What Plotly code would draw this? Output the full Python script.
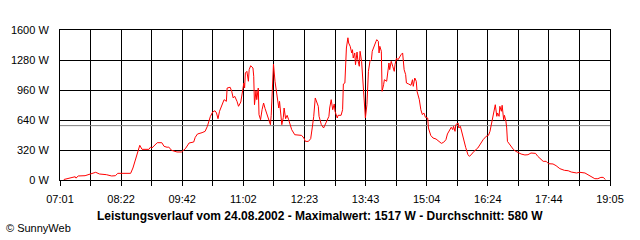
import plotly.graph_objects as go

# minutes after 07:01 and power in W
minutes = [5, 11, 17, 20, 21, 24, 33, 41, 47, 52, 61, 68, 73, 76, 93, 96, 99, 103, 105, 107, 108, 117, 119, 121,
           123, 128, 134, 137, 141, 143, 147, 154, 160, 165, 170, 176, 178, 181, 187, 191, 194, 198, 201, 204, 206,
           208, 210, 213, 216, 219, 220, 224, 226, 228, 230, 233, 235, 238,
           240, 242, 243, 244, 246, 248, 249, 251, 254, 255, 256, 258, 259, 261, 262, 264, 266, 268, 270, 273, 275,
           277, 278, 280, 281, 283, 284, 286, 288, 289, 291, 292, 294, 295, 297, 299, 301, 303, 305, 309, 314, 318,
           321, 323, 327, 330, 332, 334, 336, 338, 340, 341, 344, 347, 349, 352, 354, 355, 357, 359, 361, 362, 365,
           366, 370, 372, 373, 375, 376, 377, 379, 380, 382, 384, 385, 386, 388, 389, 391, 392, 394, 395, 397, 398,
           399, 401, 402, 404, 405, 406, 408, 410, 411, 413, 416, 417, 419, 420, 421, 423, 424, 426, 427, 430, 432,
           433, 434, 436, 438, 440, 441, 443, 445, 447, 449, 451, 452, 453, 455, 456, 459, 462, 464, 465, 467, 469,
           470, 473, 475, 477, 479, 481, 484, 485,
           488, 491, 495, 499, 502, 505, 508, 510, 513, 515, 517, 518, 520, 521, 524, 525, 527, 529, 531, 534, 537,
           539, 542, 545, 550, 554, 557, 561, 564, 566, 569, 570, 572, 573, 575, 576, 578, 579, 581, 582, 584, 585,
           587, 588, 589, 592, 594, 597, 600, 604, 607,
           612, 616, 620, 626, 629, 633, 636, 640, 643, 649, 653, 658, 664, 669, 673, 680, 684, 691, 695, 699, 704,
           708, 712, 715, 718]
watts = [5, 14, 25, 35, 20, 43, 46, 67, 82, 64, 57, 43, 46, 71, 71, 128, 217, 324, 370, 341, 327, 327, 349, 341,
         359, 398, 398, 359, 349, 352, 316, 299, 299, 334, 395, 405, 455, 491, 505, 519, 573, 679, 725, 739, 715,
         654, 733, 786, 857, 839, 981, 989, 946, 875, 893, 839, 786, 832,
         928, 1035, 981, 1141, 1159, 1053, 1177, 1219, 1195, 1106, 803, 953, 857, 981, 697, 643, 750, 821, 761, 690, 643,
         590, 690, 981, 1237, 1053, 989, 893, 768, 839, 679, 590, 669, 768, 654, 690, 643, 590, 537, 483, 476, 476,
         448, 412, 412, 441, 555, 679, 875, 821, 786, 679, 590, 555, 590, 643, 679, 768, 857, 750, 811, 733, 661,
         690, 690, 750, 1024, 1035, 1195, 1408, 1517, 1461, 1426, 1355, 1390, 1301, 1355, 1230, 1365, 1283, 1213, 1373,
         1266, 1159, 999, 786, 661, 803, 981, 1159, 1266, 1283, 1373, 1426, 1479, 1497, 1479, 1355, 1426, 1373, 946,
         1017, 1070, 1053, 1159, 1248, 1177, 1266, 1213, 1159, 1230, 1301, 1283, 1319, 1337, 1355, 1283, 1177, 1124,
         1035, 1024, 1010, 1070, 999, 1088, 1053, 946, 857, 750, 697, 715, 669, 661, 555,
         476, 448, 437, 405, 391, 402, 430, 491, 537, 562, 537, 573, 519, 590, 608, 555, 573, 501, 430, 349, 270,
         252, 277, 306, 341, 395, 430, 466, 476, 519, 626, 679, 750, 803, 679, 715, 679, 786, 733, 797, 643, 690,
         626, 555, 412, 377, 359, 324, 306, 288, 277,
         267, 270, 288, 284, 252, 217, 199, 199, 174, 171, 153, 121, 103, 99, 85, 75, 82, 75, 57, 39, 14,
         14, 28, 28, 5]

average_w = 580
y_ticks = [0, 320, 640, 960, 1280, 1600]
y_labels = ["0 W", "320 W", "640 W", "960 W", "1280 W", "1600 W"]
x_span = 724
x_labels = ["07:01", "08:22", "09:42", "11:02", "12:23", "13:43", "15:04", "16:24", "17:44", "19:05"]
title_text = "Leistungsverlauf vom 24.08.2002 - Maximalwert: 1517 W - Durchschnitt: 580 W"
credit_text = "© SunnyWeb"

n_div = (len(x_labels) - 1) * 2
x_tickvals = [i * x_span / n_div for i in range(n_div + 1)]
x_ticktext = [x_labels[i // 2] if i % 2 == 0 else "" for i in range(n_div + 1)]

fig = go.Figure()
fig.add_trace(go.Scatter(x=[0, x_span], y=[average_w, average_w], mode="lines",
                         line=dict(color="#808080", width=1), hoverinfo="skip"))
fig.add_trace(go.Scatter(x=minutes, y=watts, mode="lines",
                         line=dict(color="#ff0000", width=1)))

font = "Liberation Sans, Arial, sans-serif"
fig.update_layout(
    width=640, height=240, margin=dict(l=60, r=30, t=30, b=60),
    paper_bgcolor="white", plot_bgcolor="white", showlegend=False,
    font=dict(family=font, size=11, color="black"),
    xaxis=dict(range=[0, x_span], tickvals=x_tickvals, ticktext=x_ticktext,
               showgrid=True, gridcolor="black", gridwidth=1, zeroline=False,
               showline=True, linecolor="black", linewidth=1, mirror=True,
               ticks="outside", ticklen=5, tickcolor="black", tickwidth=1,
               tickfont=dict(size=11), ticklabelstandoff=4, fixedrange=True),
    yaxis=dict(range=[0, 1600], tickvals=y_ticks, ticktext=y_labels,
               showgrid=True, gridcolor="black", gridwidth=1, zeroline=False,
               showline=True, linecolor="black", linewidth=1, mirror=True,
               ticks="", tickfont=dict(size=11), ticklabelstandoff=8, fixedrange=True),
    annotations=[
        dict(text="<b>" + title_text + "</b>", xref="paper", yref="paper",
             x=(320 - 60) / 550, y=(180 - 216) / 150, xanchor="center", yanchor="middle",
             showarrow=False, font=dict(family=font, size=12, color="black")),
        dict(text=credit_text, xref="paper", yref="paper",
             x=(4 - 60) / 550, y=(180 - 228) / 150, xanchor="left", yanchor="middle",
             showarrow=False, font=dict(family=font, size=11, color="black")),
    ],
)
fig.write_html("out.html", config={"displayModeBar": False})
